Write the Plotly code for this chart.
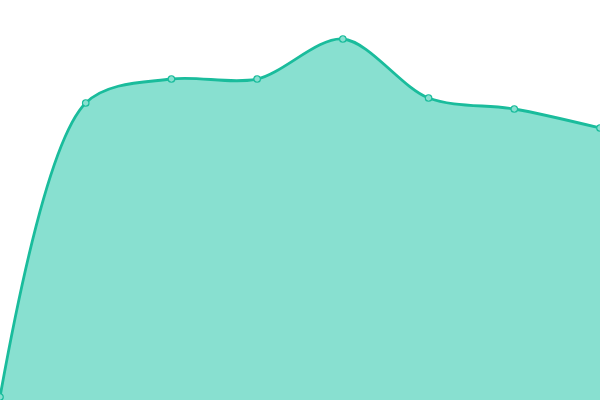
import plotly.graph_objects as go

x_vals = [0, 1, 2, 3, 4, 5, 6, 7]
y_vals = [3, 297, 321, 321, 361, 302, 291, 272]

line_color = "#1abc9c"
fill_color = "#88e0d0"

fig = go.Figure()
fig.add_trace(go.Scatter(
    x=x_vals, y=y_vals,
    mode="lines+markers",
    line=dict(color=line_color, width=2.8, shape="spline", smoothing=0.9),
    fill="tozeroy",
    fillcolor=fill_color,
    marker=dict(size=6.5, color=fill_color, line=dict(color=line_color, width=1.2)),
    hoverinfo="skip",
    cliponaxis=True,
))
fig.update_layout(
    width=600, height=400,
    margin=dict(l=0, r=0, t=0, b=0),
    paper_bgcolor="white", plot_bgcolor="white",
    showlegend=False,
    xaxis=dict(range=[0, 7], visible=False, fixedrange=True),
    yaxis=dict(range=[0, 400], visible=False, fixedrange=True),
)
fig.write_html(
    "out.html",
    config={"displayModeBar": False, "staticPlot": True},
    post_script="document.body.style.margin='0';document.body.style.overflow='hidden';",
)
